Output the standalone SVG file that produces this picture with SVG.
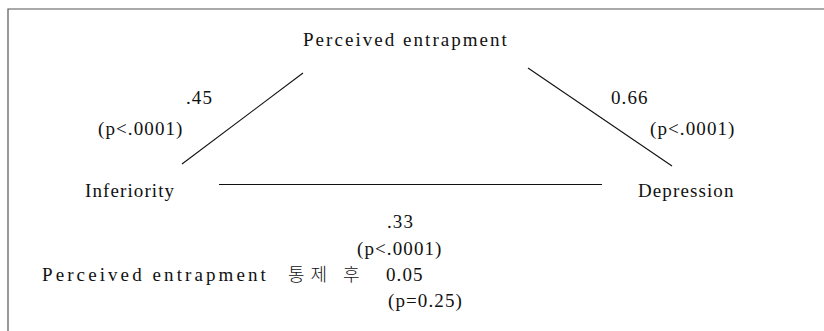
<svg xmlns="http://www.w3.org/2000/svg" width="824" height="331" viewBox="0 0 824 331">
<style>
text{font-family:"Liberation Serif","Noto Sans CJK KR",serif;font-size:19px;fill:#111;letter-spacing:1.1px}
.ko{font-family:"Noto Sans CJK KR",sans-serif;font-size:18px;font-weight:300;letter-spacing:6px}
.frame{stroke:#555;stroke-width:1.2;fill:none}
.edge{stroke:#111;stroke-width:1.1;fill:none}
</style>
<rect width="824" height="331" fill="#fff"/>
<path class="frame" d="M8 331 V9 H824"/>
<g id="connectors">
<line class="edge" x1="182" y1="164" x2="303" y2="73"/>
<line class="edge" x1="528" y1="68" x2="672" y2="166"/>
<line class="edge" x1="219" y1="184.5" x2="602" y2="184.5"/>
</g>
<g id="node-entrapment"><text x="303" y="46" textLength="205" lengthAdjust="spacing">Perceived entrapment</text></g>
<g id="node-inferiority"><text x="85" y="197">Inferiority</text></g>
<g id="node-depression"><text x="638" y="197">Depression</text></g>
<g id="label-a">
<text x="186" y="104">.45</text>
<text x="98" y="135">(p&lt;.0001)</text>
</g>
<g id="label-b">
<text x="611" y="104">0.66</text>
<text x="650" y="135">(p&lt;.0001)</text>
</g>
<g id="label-c">
<text x="387" y="228">.33</text>
<text x="357" y="255">(p&lt;.0001)</text>
<text x="42" y="281"><tspan textLength="225" lengthAdjust="spacing">Perceived entrapment</tspan><tspan class="ko" x="288">통제 후</tspan><tspan x="386">0.05</tspan></text>
<text x="388" y="307">(p=0.25)</text>
</g>
</svg>
